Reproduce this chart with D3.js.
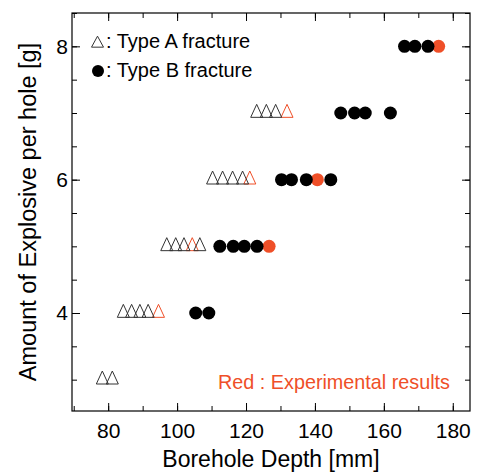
<!DOCTYPE html>
<html>
<head>
<meta charset="utf-8">
<script src="https://cdn.jsdelivr.net/npm/d3@7"></script>
<style>
    body { margin: 0; background: #fff; }
    svg { display: block; }
    text { font-family: "Liberation Sans", Arial, sans-serif; fill: #000; }
</style>
</head>
<body>
<svg width="479" height="473"></svg>
<script>
// explosive amount [g] for each row
const explosive = [3, 4, 5, 6, 7, 8];
// borehole depth [mm] of each mark, one list per row
const typeADepth = [[78.3, 81.2], [84.4, 86.8, 89.2, 91.6], [97.0, 99.6, 102.0, 106.6], [110.3, 113.2, 116.1, 119.0], [123.1, 125.9, 128.6], []];
const typeAExpDepth = [[], [94.6], [104.4], [121.1], [131.9], []];
const typeBDepth = [[], [105.4, 109.2], [112.4, 116.3, 119.5, 123.2], [130.3, 133.2, 137.5, 144.6], [147.5, 151.5, 154.6, 161.9], [166.0, 169.0, 172.8]];
const typeBExpDepth = [[], [], [126.7], [140.7], [], [175.9]];

const xTicks = [80, 100, 120, 140, 160, 180];
const yTicks = [4, 6, 8];

const RED = "#ef4f28";
const DARK = "#333";

let plotLeft = 72, plotRight = 470, plotTop = 13, plotBottom = 411;
let triW = 12, triH = 13;
let radius = 6.5;

const svg = d3.select("svg");
const x = d3.scaleLinear().domain([69.5, 185]).range([plotLeft, plotRight]);
const y = d3.scaleLinear().domain([2.53, 8.5]).range([plotBottom, plotTop]);

// flatten rows into points
function toPoints(rows) {
    let pts = [];
    rows.forEach((r, i) => r.forEach(d => pts.push({x: d, y: explosive[i]})));
    return pts;
}

function triPath(cx, cy, w, h) {
    // centroid centred triangle
    return `M${cx},${cy - h * 2 / 3}L${cx + w / 2},${cy + h / 3}L${cx - w / 2},${cy + h / 3}Z`;
}

// axes: inward ticks on all four sides
const xMinor = d3.range(70, 186, 10);
const yMinor = d3.range(3, 8.51, 0.5);

const axes = svg.append("g");
axes.append("g")
        .attr("transform", `translate(0,${plotBottom})`)
        .call(d3.axisBottom(x).tickValues(xMinor).tickSize(-5).tickFormat(""));
axes.append("g")
        .attr("transform", `translate(0,${plotBottom})`)
        .call(d3.axisBottom(x).tickValues(xTicks).tickSize(-8).tickPadding(12).tickFormat(d3.format("d")));
axes.append("g")
        .attr("transform", `translate(0,${plotTop})`)
        .call(d3.axisTop(x).tickValues(xMinor).tickSize(-5).tickFormat(""));
axes.append("g")
        .attr("transform", `translate(0,${plotTop})`)
        .call(d3.axisTop(x).tickValues(xTicks).tickSize(-8).tickFormat(""));
axes.append("g")
        .attr("transform", `translate(${plotLeft},0)`)
        .call(d3.axisLeft(y).tickValues(yMinor).tickSize(-5).tickFormat(""));
axes.append("g")
        .attr("transform", `translate(${plotLeft},0)`)
        .call(d3.axisLeft(y).tickValues(yTicks).tickSize(-8).tickPadding(4).tickFormat(d3.format("d")));
axes.append("g")
        .attr("transform", `translate(${plotRight},0)`)
        .call(d3.axisRight(y).tickValues(yMinor).tickSize(-5).tickFormat(""));
axes.append("g")
        .attr("transform", `translate(${plotRight},0)`)
        .call(d3.axisRight(y).tickValues(yTicks).tickSize(-8).tickFormat(""));

axes.selectAll(".domain").remove();
axes.selectAll(".tick line").attr("stroke", "#000");
axes.selectAll(".tick text")
        .style("font-family", '"Liberation Sans", Arial, sans-serif')
        .style("font-size", "21px")
        .attr("fill", "#000");

svg.append("rect")
        .attr("x", plotLeft)
        .attr("y", plotTop)
        .attr("width", plotRight - plotLeft)
        .attr("height", plotBottom - plotTop)
        .attr("fill", "none")
        .attr("stroke", "#000")
        .attr("stroke-width", 1.2);

// axis titles
svg.append("text")
        .attr("x", (plotLeft + plotRight) / 2)
        .attr("y", 467)
        .attr("text-anchor", "middle")
        .style("font-size", "23px")
        .text("Borehole Depth [mm]");
svg.append("text")
        .attr("transform", `translate(36,${(plotTop + plotBottom) / 2}) rotate(-90)`)
        .attr("text-anchor", "middle")
        .style("font-size", "23.5px")
        .text("Amount of Explosive per hole [g]");

const g = svg.append("g");

// red (experimental) marks go under the black ones
g.selectAll("path.expA")
        .data(toPoints(typeAExpDepth))
    .enter().append("path")
        .attr("class", "expA")
        .attr("d", d => triPath(x(d.x), y(d.y), triW, triH))
        .attr("fill", "none")
        .attr("stroke", RED)
        .attr("stroke-width", 1);
g.selectAll("path.typeA")
        .data(toPoints(typeADepth))
    .enter().append("path")
        .attr("class", "typeA")
        .attr("d", d => triPath(x(d.x), y(d.y), triW, triH))
        .attr("fill", "none")
        .attr("stroke", DARK)
        .attr("stroke-width", 1);
g.selectAll("circle.expB")
        .data(toPoints(typeBExpDepth))
    .enter().append("circle")
        .attr("class", "expB")
        .attr("cx", d => x(d.x))
        .attr("cy", d => y(d.y))
        .attr("r", radius)
        .attr("fill", RED);
g.selectAll("circle.typeB")
        .data(toPoints(typeBDepth))
    .enter().append("circle")
        .attr("class", "typeB")
        .attr("cx", d => x(d.x))
        .attr("cy", d => y(d.y))
        .attr("r", radius)
        .attr("fill", "#000");

// legend
const legend = svg.append("g");
legend.append("path")
        .attr("d", triPath(97.5, 43.5, 12, 11))
        .attr("fill", "none")
        .attr("stroke", DARK);
legend.append("circle")
        .attr("cx", 98)
        .attr("cy", 71)
        .attr("r", 6);
legend.append("text")
        .attr("x", 106)
        .attr("y", 48)
        .style("font-size", "20px")
        .text(": Type A fracture");
legend.append("text")
        .attr("x", 106)
        .attr("y", 77)
        .style("font-size", "20px")
        .text(": Type B fracture");

svg.append("text")
        .attr("x", 450)
        .attr("y", 389)
        .attr("text-anchor", "end")
        .style("font-size", "19.8px")
        .style("fill", RED)
        .text("Red : Experimental results");
</script>
</body>
</html>
